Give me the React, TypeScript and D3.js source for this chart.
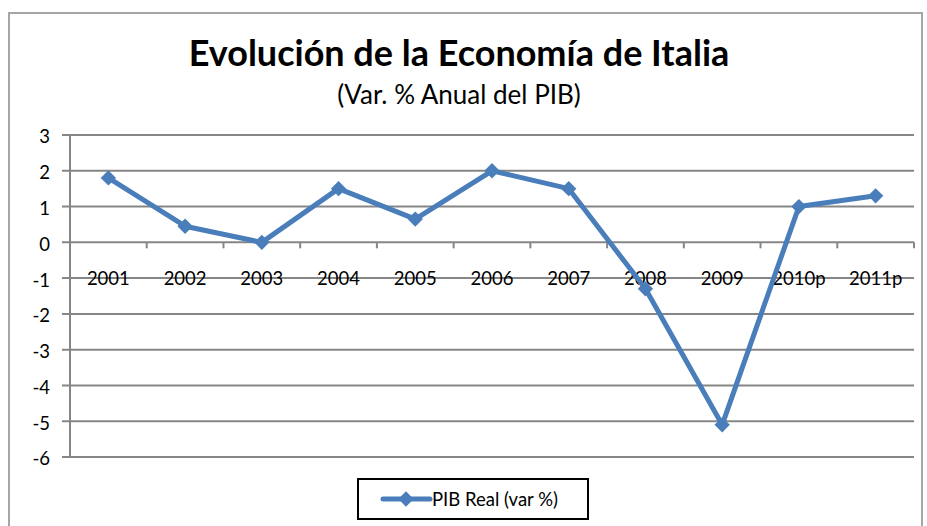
import React, { useEffect, useRef } from 'react';
import * as d3 from 'd3';

const years = ['2001', '2002', '2003', '2004', '2005', '2006', '2007', '2008', '2009', '2010p', '2011p'];
const pibReal = [1.8, 0.45, 0.0, 1.5, 0.65, 2.0, 1.5, -1.3, -5.1, 1.0, 1.3];
const yTicks = [3, 2, 1, 0, -1, -2, -3, -4, -5, -6];

const W = 927;
const H = 526;
const FONT = 'Lato, Calibri, sans-serif';
const BLUE = '#4a7ebb';
const GRID = '#868686';

const App = () => {
  const ref = useRef<SVGSVGElement>(null);

  useEffect(() => {
    const svg = d3.select(ref.current);
    svg.selectAll('*').remove();

    const left = 70, right = 914, top = 135, bottom = 457;

    const x = d3.scaleBand().domain(years).range([left, right]);
    const y = d3.scaleLinear().domain([-6, 3]).range([bottom, top]);

    // chart frame
    svg.append('rect')
      .attr('x', 9).attr('y', 13).attr('width', 913).attr('height', 530)
      .attr('fill', '#fff').attr('stroke', '#a6a6a6').attr('stroke-width', 2);

    svg.append('text')
      .attr('x', 459).attr('y', 66)
      .attr('text-anchor', 'middle')
      .attr('font-family', FONT).attr('font-weight', 'bold').attr('font-size', 36)
      .text('Evolución de la Economía de Italia');
    svg.append('text')
      .attr('x', 459).attr('y', 104)
      .attr('text-anchor', 'middle')
      .attr('font-family', FONT).attr('font-size', 26)
      .text('(Var. % Anual del PIB)');

    // horizontal grid + y ticks
    const grid = svg.append('g');
    grid.selectAll('line')
      .data(yTicks)
      .join('line')
      .attr('x1', left - 8).attr('x2', right)
      .attr('y1', d => y(d)).attr('y2', d => y(d))
      .attr('stroke', GRID).attr('stroke-width', 2);
    grid.selectAll('text')
      .data(yTicks)
      .join('text')
      .attr('x', 50).attr('y', d => y(d) + 2)
      .attr('dy', '0.35em')
      .attr('text-anchor', 'end')
      .attr('font-family', FONT).attr('font-size', 18.5)
      .text(d => d);

    // y axis line
    svg.append('line')
      .attr('x1', left).attr('x2', left).attr('y1', top).attr('y2', bottom)
      .attr('stroke', GRID).attr('stroke-width', 2);

    // x axis at zero with category ticks
    const bounds = d3.range(years.length + 1).map(i => left + i * x.bandwidth());
    svg.append('g').selectAll('line')
      .data(bounds)
      .join('line')
      .attr('x1', d => d).attr('x2', d => d)
      .attr('y1', y(0)).attr('y2', y(0) + 6)
      .attr('stroke', GRID).attr('stroke-width', 2);

    svg.append('g').selectAll('text')
      .data(years)
      .join('text')
      .attr('x', d => x(d)! + x.bandwidth() / 2)
      .attr('y', y(0) + 43)
      .attr('text-anchor', 'middle')
      .attr('font-family', FONT).attr('font-size', 18.5)
      .text(d => d);

    // series
    const cx = (i: number) => x(years[i])! + x.bandwidth() / 2;
    const line = d3.line<number>().x((d, i) => cx(i)).y(d => y(d));
    svg.append('path')
      .datum(pibReal)
      .attr('d', line)
      .attr('fill', 'none')
      .attr('stroke', BLUE).attr('stroke-width', 5)
      .attr('stroke-linejoin', 'round');

    const diamond = d3.symbol().type(d3.symbolDiamond2).size(150);
    svg.append('g').selectAll('path')
      .data(pibReal)
      .join('path')
      .attr('d', diamond)
      .attr('transform', (d, i) => `translate(${cx(i)},${y(d)})`)
      .attr('fill', BLUE);

    // legend
    const lg = svg.append('g');
    lg.append('rect')
      .attr('x', 358).attr('y', 479).attr('width', 230).attr('height', 40)
      .attr('fill', '#fff').attr('stroke', '#000').attr('stroke-width', 2);
    lg.append('line')
      .attr('x1', 383).attr('x2', 430).attr('y1', 499).attr('y2', 499)
      .attr('stroke', BLUE).attr('stroke-width', 5).attr('stroke-linecap', 'round');
    lg.append('path')
      .attr('d', diamond)
      .attr('transform', 'translate(406,499)')
      .attr('fill', BLUE);
    lg.append('text')
      .attr('x', 432).attr('y', 500).attr('dy', '0.35em')
      .attr('font-family', FONT).attr('font-size', 18.5)
      .text('PIB Real (var %)');
  }, []);

  return (
    <svg ref={ref} width={W} height={H}
      style={{ position: 'absolute', left: 0, top: 0, background: '#fff' }} />
  );
};

export default App;
